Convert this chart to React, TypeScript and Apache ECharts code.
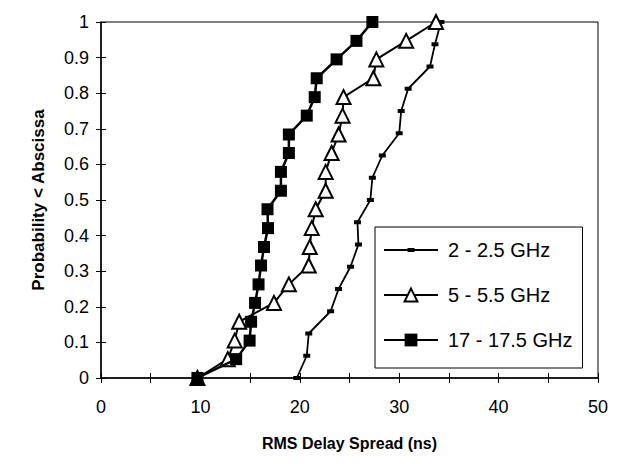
import React, { useEffect, useRef } from "react";
import * as echarts from "echarts";

const legendNames = ["2 - 2.5 GHz", "5 - 5.5 GHz", "17 - 17.5 GHz"];

const s1X = [19.7, 20.7, 20.9, 23.1, 23.9, 25.1, 25.9, 25.8, 27.1, 27.3, 28.3, 30.0, 30.2, 30.9, 33.1, 33.6, 34.2];
const s1Y = [0, 0.0625, 0.125, 0.1875, 0.25, 0.3125, 0.375, 0.4375, 0.5, 0.5625, 0.625, 0.6875, 0.75, 0.8125, 0.875, 0.9375, 1];

const s2X = [9.7, 12.75, 13.45, 13.9, 17.4, 18.9, 20.9, 21.0, 21.2, 21.6, 22.6, 22.6, 23.2, 23.9, 24.3, 24.4, 27.4, 27.7, 30.7, 33.7];
const s2Y = [0, 0.053, 0.105, 0.158, 0.211, 0.263, 0.316, 0.368, 0.421, 0.474, 0.526, 0.579, 0.632, 0.684, 0.737, 0.789, 0.842, 0.895, 0.947, 1];

const s3X = [9.7, 13.6, 14.95, 15.1, 15.5, 15.85, 16.1, 16.4, 16.8, 16.75, 18.1, 18.1, 18.9, 18.9, 20.7, 21.5, 21.7, 23.7, 25.7, 27.3];
const s3Y = [0, 0.053, 0.105, 0.158, 0.211, 0.263, 0.316, 0.368, 0.421, 0.474, 0.526, 0.579, 0.632, 0.684, 0.737, 0.789, 0.842, 0.895, 0.947, 1];

const xName = "RMS Delay Spread (ns)";
const yName = "Probability < Abscissa";

const FONT = "'Liberation Sans', Arial, Helvetica, sans-serif";

function pair(xs: number[], ys: number[]) {
  return xs.map((x, i) => [x, ys[i]]);
}

export default function App() {
  const ref = useRef<HTMLDivElement>(null);
  useEffect(() => {
    const chart = echarts.init(ref.current!, null, { renderer: "svg" });
    const tickStyle = { color: "#000", width: 1 };
    const s1Icon =
      "path://M0,0 L0.01,0 L0.01,0.01 Z M54,16 L53.99,16 L53.99,15.99 Z M0,7.1 L54,7.1 L54,8.9 L0,8.9 Z M23.5,6 L30.5,6 L30.5,10 L23.5,10 Z";
    chart.setOption({
      animation: false,
      backgroundColor: "#fff",
      textStyle: { fontFamily: FONT },
      grid: {
        left: 101,
        right: 25,
        top: 22,
        bottom: 86,
        show: true,
        borderColor: "#000",
        borderWidth: 1,
        backgroundColor: "transparent",
      },
      xAxis: [
        {
          type: "value",
          min: 0,
          max: 50,
          interval: 5,
          position: "bottom",
          name: xName,
          nameLocation: "middle",
          nameGap: 57,
          nameTextStyle: { fontWeight: "bold", fontSize: 16, color: "#000", fontFamily: FONT },
          axisLine: { show: true, onZero: false, lineStyle: { color: "#000", width: 1.5 } },
          axisTick: { show: true, inside: false, length: 5, lineStyle: tickStyle },
          axisLabel: {
            fontSize: 18,
            color: "#000",
            margin: 20,
            fontFamily: FONT,
            formatter: (v: number) => (Math.round(v) % 10 === 0 ? String(v) : ""),
          },
          splitLine: { show: false },
        },
        {
          type: "value",
          min: 0,
          max: 50,
          interval: 5,
          position: "bottom",
          offset: 0,
          axisLine: { show: false, onZero: false },
          axisTick: { show: true, inside: true, length: 5, lineStyle: tickStyle },
          axisLabel: { show: false },
          splitLine: { show: false },
        },
      ],
      yAxis: [
        {
          type: "value",
          min: 0,
          max: 1,
          interval: 0.1,
          position: "left",
          name: yName,
          nameLocation: "middle",
          nameGap: 54,
          nameTextStyle: { fontWeight: "bold", fontSize: 17, color: "#000", fontFamily: FONT },
          axisLine: { show: true, onZero: false, lineStyle: { color: "#000", width: 1.5 } },
          axisTick: { show: true, inside: false, length: 5, lineStyle: tickStyle },
          axisLabel: { fontSize: 18, color: "#000", margin: 12, fontFamily: FONT },
          splitLine: { show: false },
        },
        {
          type: "value",
          min: 0,
          max: 1,
          interval: 0.1,
          position: "left",
          offset: 0,
          axisLine: { show: false, onZero: false },
          axisTick: { show: true, inside: true, length: 5, lineStyle: tickStyle },
          axisLabel: { show: false },
          splitLine: { show: false },
        },
      ],
      legend: {
        orient: "vertical",
        left: 375,
        top: 227,
        itemWidth: 54,
        itemHeight: 16,
        itemGap: 25,
        padding: [13, 10, 18, 8],
        borderColor: "#000",
        borderWidth: 1,
        borderRadius: 0,
        backgroundColor: "#fff",
        textStyle: { fontSize: 20, color: "#000", fontFamily: FONT, padding: [0, 0, 0, 5] },
        data: [{ name: legendNames[0], icon: s1Icon }, { name: legendNames[1] }, { name: legendNames[2] }],
      },
      series: [
        {
          name: legendNames[0],
          type: "line",
          xAxisIndex: 0,
          yAxisIndex: 0,
          data: pair(s1X, s1Y),
          symbol: "rect",
          symbolSize: [7, 4],
          clip: false,
          color: "#000",
          lineStyle: { color: "#000", width: 1.8 },
          itemStyle: { color: "#000", borderWidth: 0 },
          z: 2,
        },
        {
          name: legendNames[1],
          type: "line",
          xAxisIndex: 0,
          yAxisIndex: 0,
          data: pair(s2X, s2Y),
          symbol: "triangle",
          symbolSize: 14,
          clip: false,
          color: "#000",
          lineStyle: { color: "#000", width: 2 },
          itemStyle: { color: "#fff", borderColor: "#000", borderWidth: 2 },
          z: 3,
        },
        {
          name: legendNames[2],
          type: "line",
          xAxisIndex: 0,
          yAxisIndex: 0,
          data: pair(s3X, s3Y),
          symbol: "rect",
          symbolSize: 12,
          clip: false,
          color: "#000",
          lineStyle: { color: "#000", width: 2.5 },
          itemStyle: { color: "#000", borderWidth: 0 },
          z: 4,
        },
      ],
    });
    return () => chart.dispose();
  }, []);
  return (
    <div
      ref={ref}
      style={{ position: "fixed", left: 0, top: 0, width: 623, height: 464, background: "#fff" }}
    />
  );
}
